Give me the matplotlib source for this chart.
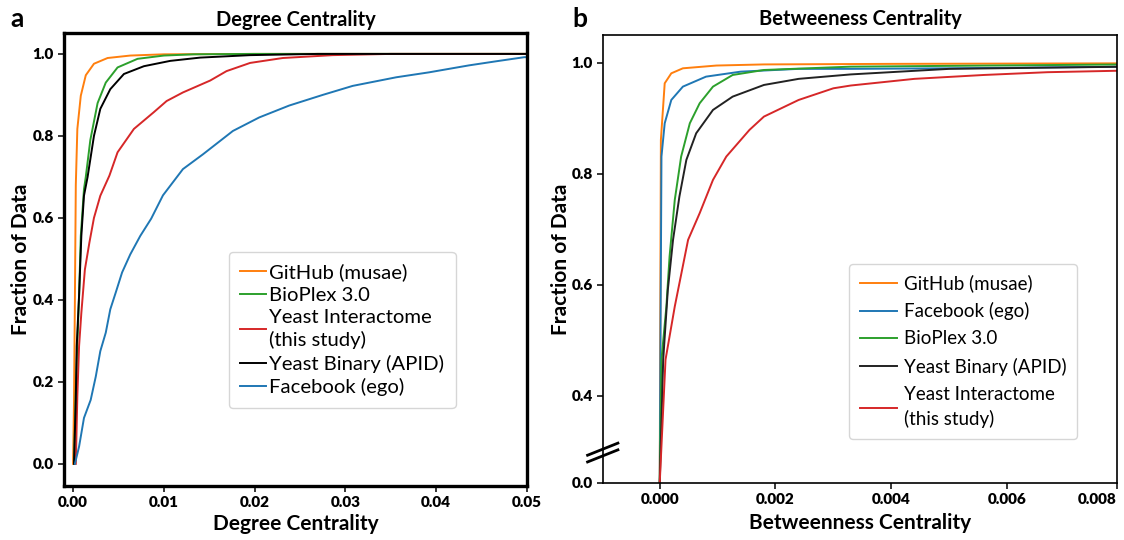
"""
CDF of degree and betweenness centrality
"""
import numpy as np
import matplotlib
matplotlib.use("Agg")
import matplotlib.pyplot as plt

plt.rcParams['font.family'] = ['Lato', 'DejaVu Sans']

# ---- panel a : degree centrality ----
deg_github_x = [0, 0.0001, 0.0002, 0.0003, 0.00047, 0.00085, 0.0014, 0.0023, 0.0038, 0.0063, 0.01, 0.02, 0.05]
deg_github_y = [0, 0.15, 0.40, 0.68, 0.817, 0.898, 0.948, 0.976, 0.99, 0.996, 0.999, 1.0, 1.0]

deg_bioplex_x = [0.0001, 0.0003, 0.00047, 0.00066, 0.00085, 0.0012, 0.0014, 0.0019, 0.0027, 0.0036,
                 0.0049, 0.0071, 0.01, 0.0133, 0.02, 0.05]
deg_bioplex_y = [0, 0.18, 0.295, 0.41, 0.556, 0.67, 0.70, 0.79, 0.88, 0.93,
                 0.967, 0.988, 0.996, 0.999, 1.0, 1.0]

deg_yeast_x = [0.0003, 0.00047, 0.00066, 0.00091, 0.0013, 0.0018, 0.0023, 0.003, 0.004, 0.0049,
               0.0067, 0.0089, 0.0103, 0.0121, 0.0151, 0.0169, 0.0195, 0.0231, 0.0286, 0.035, 0.05]
deg_yeast_y = [0, 0.165, 0.287, 0.368, 0.474, 0.54, 0.60, 0.654, 0.703, 0.76,
               0.817, 0.858, 0.885, 0.906, 0.935, 0.958, 0.978, 0.99, 0.997, 1.0, 1.0]

deg_apid_x = [0.0001, 0.0003, 0.0004, 0.00066, 0.00091, 0.0012, 0.0016, 0.0023, 0.003, 0.0041,
              0.0056, 0.0078, 0.0107, 0.014, 0.0195, 0.027, 0.05]
deg_apid_y = [0, 0.156, 0.287, 0.41, 0.556, 0.654, 0.70, 0.80, 0.866, 0.914,
              0.951, 0.970, 0.983, 0.991, 0.997, 1.0, 1.0]

deg_fb_x = [0.0002, 0.00066, 0.0012, 0.00194, 0.0025, 0.003, 0.0036, 0.0041, 0.0047, 0.0054,
            0.0063, 0.0074, 0.0086, 0.0099, 0.0121, 0.0143, 0.0176, 0.0205, 0.0238, 0.0275,
            0.0308, 0.0356, 0.0392, 0.0436, 0.0466, 0.0497, 0.05]
deg_fb_y = [0, 0.042, 0.112, 0.156, 0.213, 0.275, 0.32, 0.377, 0.418, 0.467,
            0.511, 0.556, 0.598, 0.655, 0.719, 0.755, 0.812, 0.845, 0.874, 0.90,
            0.922, 0.943, 0.955, 0.972, 0.982, 0.992, 0.992]

# ---- panel b : betweenness centrality ----
btw_github_x = [0, 0.00002, 0.000086, 0.0002, 0.0004, 0.00098, 0.0018, 0.004, 0.0081]
btw_github_y = [0, 0.861, 0.963, 0.981, 0.99, 0.995, 0.997, 0.998, 0.999]

btw_fb_x = [0, 0.00003, 0.000086, 0.0002, 0.0004, 0.0008, 0.0014, 0.0024, 0.0033, 0.005, 0.0081]
btw_fb_y = [0, 0.831, 0.891, 0.933, 0.957, 0.975, 0.984, 0.989, 0.989, 0.990, 0.993]

btw_bioplex_x = [0, 0.00003, 0.000115, 0.00017, 0.00026, 0.00037, 0.00052, 0.00069, 0.00092,
                 0.00126, 0.0018, 0.0033, 0.0081]
btw_bioplex_y = [0, 0.465, 0.561, 0.651, 0.753, 0.831, 0.891, 0.927, 0.957,
                 0.978, 0.987, 0.993, 0.997]

btw_apid_x = [0, 0.00006, 0.00014, 0.00023, 0.00034, 0.00046, 0.00063, 0.00092, 0.00126,
              0.0018, 0.0024, 0.0033, 0.005, 0.0081]
btw_apid_y = [0, 0.465, 0.591, 0.681, 0.759, 0.825, 0.873, 0.915, 0.939,
              0.96, 0.971, 0.979, 0.989, 0.993]

btw_yeast_x = [0, 0.0001, 0.00026, 0.00049, 0.00069, 0.00092, 0.00115, 0.00155, 0.0018,
               0.0024, 0.003, 0.0033, 0.0044, 0.0056, 0.0067, 0.0081]
btw_yeast_y = [0, 0.465, 0.561, 0.681, 0.729, 0.789, 0.831, 0.879, 0.903,
               0.933, 0.954, 0.959, 0.971, 0.978, 0.983, 0.986]

c_or, c_gr, c_rd, c_bk, c_bl = '#ff7f0e', '#2ca02c', '#d62728', 'black', '#1f77b4'

fig = plt.figure(figsize=(11.24, 5.4), dpi=100)
ax1 = fig.add_axes([64/1124, 54/540, 463/1124, 453/540])
ax2 = fig.add_axes([603/1124, 57/540, 514/1124, 448/540])

tick_kw = dict(fontsize=11, fontweight='heavy')
leg_kw = dict(loc='upper left', borderaxespad=0, frameon=True, fancybox=True, borderpad=0.55)

# panel a
lw = 1.4
ax1.plot(deg_github_x, deg_github_y, color=c_or, lw=lw, label='GitHub (musae)')
ax1.plot(deg_bioplex_x, deg_bioplex_y, color=c_gr, lw=lw, label='BioPlex 3.0')
ax1.plot(deg_yeast_x, deg_yeast_y, color=c_rd, lw=lw, label='Yeast Interactome\n(this study)')
ax1.plot(deg_apid_x, deg_apid_y, color=c_bk, lw=lw, label='Yeast Binary (APID)')
ax1.plot(deg_fb_x, deg_fb_y, color=c_bl, lw=lw, label='Facebook (ego)')
ax1.set_xlim(-0.001, 0.05)
ax1.set_ylim(-0.054, 1.051)
ax1.set_xticks(np.arange(0, 0.051, 0.01))
ax1.set_xticklabels(['0.00', '0.01', '0.02', '0.03', '0.04', '0.05'], **tick_kw)
ax1.set_yticks(np.arange(0, 1.01, 0.2))
ax1.set_yticklabels(['0.0', '0.2', '0.4', '0.6', '0.8', '1.0'], **tick_kw)
for s in ax1.spines.values():
    s.set_linewidth(2.4)
ax1.set_title('Degree Centrality', fontsize=14.5, fontweight='bold', pad=5)
ax1.set_xlabel('Degree Centrality', fontsize=15, fontweight='bold', labelpad=3)
ax1.set_ylabel('Fraction of Data', fontsize=15, fontweight='bold', labelpad=1)
leg1 = ax1.legend(bbox_to_anchor=(0.356, 0.517), handlelength=1.3, handletextpad=0.15,
                  fontsize=14.6, labelspacing=0.28, **leg_kw)
for t in leg1.get_texts():
    t.set_linespacing(1.3)

# panel b, broken y axis between 0.0 and 0.4
lo, brk = 0.243, 0.4

def fwd(y):
    y = np.asarray(y, dtype=float)
    return np.where(y >= brk, y, lo + y * (brk - lo) / brk)

def inv(v):
    v = np.asarray(v, dtype=float)
    return np.where(v >= brk, v, (v - lo) * brk / (brk - lo))

ax2.set_yscale('function', functions=(fwd, inv))
ax2.plot(btw_github_x, btw_github_y, color=c_or, lw=lw, label='GitHub (musae)')
ax2.plot(btw_fb_x, btw_fb_y, color=c_bl, lw=lw, label='Facebook (ego)')
ax2.plot(btw_bioplex_x, btw_bioplex_y, color=c_gr, lw=lw, label='BioPlex 3.0')
ax2.plot(btw_apid_x, btw_apid_y, color='#222222', lw=lw, label='Yeast Binary (APID)')
ax2.plot(btw_yeast_x, btw_yeast_y, color=c_rd, lw=lw, label='Yeast Interactome\n(this study)')
ax2.set_xlim(-0.00098, 0.0079)
ax2.set_ylim(0.0, 1.05)
ax2.set_xticks([0, 0.002, 0.004, 0.006, 0.0079])
xl = ax2.set_xticklabels(['0.000', '0.002', '0.004', '0.006', '0.008'], **tick_kw)
xl[-1].set_horizontalalignment('right')
ax2.set_yticks([0.0, 0.4, 0.6, 0.8, 1.0])
ax2.set_yticklabels(['0.0', '0.4', '0.6', '0.8', '1.0'], **tick_kw)
ax2.yaxis.set_minor_locator(plt.NullLocator())
for s in ax2.spines.values():
    s.set_linewidth(1.2)
ax2.set_title('Betweeness Centrality', fontsize=14.5, fontweight='bold', pad=7)
ax2.set_xlabel('Betweenness Centrality', fontsize=15, fontweight='bold', labelpad=5)
ax2.set_ylabel('Fraction of Data', fontsize=15, fontweight='bold', labelpad=0)
leg2 = ax2.legend(bbox_to_anchor=(0.479, 0.489), handlelength=2.0, handletextpad=0.35,
                  fontsize=13.5, labelspacing=0.54, **leg_kw)
for t in leg2.get_texts():
    t.set_linespacing(1.5)

# break marks on the left spine
for dy in (0.0, -0.015):
    ax2.plot([-0.03, 0.029], [0.062 + dy, 0.089 + dy], transform=ax2.transAxes,
             color='black', lw=2, clip_on=False)

for ax in (ax1, ax2):
    ax.tick_params(length=4, width=1.1)

fig.text(0.009, 0.965, 'a', fontsize=19, fontweight='bold', va='center')
fig.text(0.509, 0.965, 'b', fontsize=19, fontweight='bold', va='center')

fig.savefig('out.png', dpi=100)
